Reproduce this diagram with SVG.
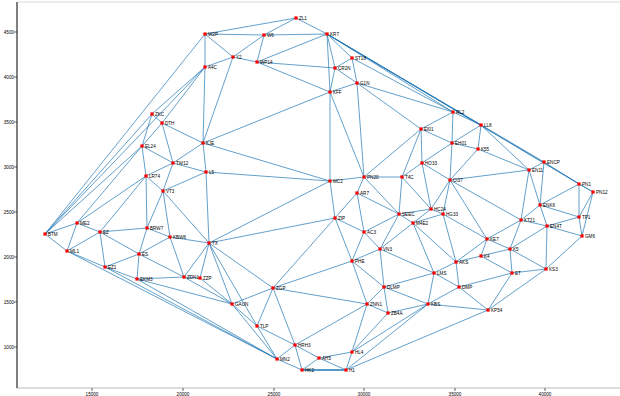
<svg xmlns="http://www.w3.org/2000/svg" width="620" height="396" viewBox="0 0 620 396">
<style>
.e line{stroke:#1f77b4;stroke-width:0.7;fill:none}
.nd rect{fill:#ff0000}
.nd text{font-family:"Liberation Sans",Arial,sans-serif;font-size:4.6px;fill:#000}
.ax{font-family:"Liberation Sans",Arial,sans-serif;font-size:4.6px;fill:#000}
</style>
<rect width="620" height="396" fill="#fff"/>
<line x1="17" y1="2" x2="620" y2="2" stroke="#d9d9d9" stroke-width="1"/>
<line x1="17" y1="388" x2="620" y2="388" stroke="#bbb" stroke-width="1"/>
<line x1="17" y1="2" x2="17" y2="388" stroke="#000" stroke-width="1"/>
<g id="axes" class="ax">
<g stroke="#000" stroke-width="0.6">
<line x1="14" y1="32" x2="17" y2="32"/><line x1="14" y1="77" x2="17" y2="77"/><line x1="14" y1="122" x2="17" y2="122"/><line x1="14" y1="167" x2="17" y2="167"/><line x1="14" y1="212" x2="17" y2="212"/><line x1="14" y1="257" x2="17" y2="257"/><line x1="14" y1="302" x2="17" y2="302"/><line x1="14" y1="347" x2="17" y2="347"/>
<line x1="92" y1="388" x2="92" y2="391"/><line x1="183" y1="388" x2="183" y2="391"/><line x1="274" y1="388" x2="274" y2="391"/><line x1="364" y1="388" x2="364" y2="391"/><line x1="455" y1="388" x2="455" y2="391"/><line x1="545" y1="388" x2="545" y2="391"/>
</g>
<g text-anchor="end">
<text x="14" y="34">4500</text><text x="14" y="79">4000</text><text x="14" y="124">3500</text><text x="14" y="169">3000</text><text x="14" y="214">2500</text><text x="14" y="259">2000</text><text x="14" y="304">1500</text><text x="14" y="349">1000</text>
</g>
<g text-anchor="middle">
<text x="92" y="396">15000</text><text x="183" y="396">20000</text><text x="274" y="396">25000</text><text x="364" y="396">30000</text><text x="455" y="396">35000</text><text x="545" y="396">40000</text>
</g>
</g>
<g id="connectors" class="e">
<line x1="45" y1="234" x2="205" y2="34"/>
<line x1="45" y1="234" x2="205" y2="67"/>
<line x1="45" y1="234" x2="152" y2="114"/>
<line x1="45" y1="234" x2="142" y2="146"/>
<line x1="45" y1="234" x2="77" y2="223"/>
<line x1="45" y1="234" x2="67" y2="251"/>
<line x1="77" y1="223" x2="142" y2="146"/>
<line x1="77" y1="223" x2="146" y2="176"/>
<line x1="77" y1="223" x2="100" y2="232"/>
<line x1="77" y1="223" x2="67" y2="251"/>
<line x1="100" y1="232" x2="67" y2="251"/>
<line x1="100" y1="232" x2="146" y2="176"/>
<line x1="100" y1="232" x2="147" y2="228"/>
<line x1="100" y1="232" x2="139" y2="254"/>
<line x1="100" y1="232" x2="105" y2="267"/>
<line x1="67" y1="251" x2="105" y2="267"/>
<line x1="67" y1="251" x2="277" y2="359"/>
<line x1="105" y1="267" x2="277" y2="359"/>
<line x1="105" y1="267" x2="139" y2="254"/>
<line x1="105" y1="267" x2="137" y2="279"/>
<line x1="137" y1="279" x2="277" y2="359"/>
<line x1="137" y1="279" x2="139" y2="254"/>
<line x1="137" y1="279" x2="184" y2="277"/>
<line x1="137" y1="279" x2="232" y2="304"/>
<line x1="139" y1="254" x2="147" y2="228"/>
<line x1="139" y1="254" x2="170" y2="237"/>
<line x1="139" y1="254" x2="184" y2="277"/>
<line x1="147" y1="228" x2="146" y2="176"/>
<line x1="147" y1="228" x2="163" y2="191"/>
<line x1="147" y1="228" x2="170" y2="237"/>
<line x1="170" y1="237" x2="163" y2="191"/>
<line x1="170" y1="237" x2="209" y2="243"/>
<line x1="170" y1="237" x2="184" y2="277"/>
<line x1="184" y1="277" x2="200" y2="278"/>
<line x1="184" y1="277" x2="209" y2="243"/>
<line x1="184" y1="277" x2="232" y2="304"/>
<line x1="200" y1="278" x2="209" y2="243"/>
<line x1="200" y1="278" x2="232" y2="304"/>
<line x1="209" y1="243" x2="206" y2="172"/>
<line x1="209" y1="243" x2="163" y2="191"/>
<line x1="209" y1="243" x2="330" y2="181"/>
<line x1="209" y1="243" x2="335" y2="218"/>
<line x1="209" y1="243" x2="273" y2="288"/>
<line x1="209" y1="243" x2="232" y2="304"/>
<line x1="209" y1="243" x2="257" y2="326"/>
<line x1="232" y1="304" x2="273" y2="288"/>
<line x1="232" y1="304" x2="257" y2="326"/>
<line x1="232" y1="304" x2="277" y2="359"/>
<line x1="257" y1="326" x2="273" y2="288"/>
<line x1="257" y1="326" x2="295" y2="345"/>
<line x1="257" y1="326" x2="277" y2="359"/>
<line x1="277" y1="359" x2="295" y2="345"/>
<line x1="277" y1="359" x2="302" y2="370"/>
<line x1="295" y1="345" x2="302" y2="370"/>
<line x1="295" y1="345" x2="319" y2="358"/>
<line x1="295" y1="345" x2="273" y2="288"/>
<line x1="295" y1="345" x2="367" y2="304"/>
<line x1="319" y1="358" x2="302" y2="370"/>
<line x1="319" y1="358" x2="352" y2="352"/>
<line x1="319" y1="358" x2="346" y2="370"/>
<line x1="302" y1="370" x2="346" y2="370" style="stroke-width:1.5"/>
<line x1="346" y1="370" x2="352" y2="352"/>
<line x1="346" y1="370" x2="428" y2="304"/>
<line x1="346" y1="370" x2="488" y2="310"/>
<line x1="352" y1="352" x2="367" y2="304"/>
<line x1="352" y1="352" x2="388" y2="313"/>
<line x1="352" y1="352" x2="428" y2="304"/>
<line x1="367" y1="304" x2="388" y2="313"/>
<line x1="367" y1="304" x2="384" y2="287"/>
<line x1="367" y1="304" x2="352" y2="261"/>
<line x1="367" y1="304" x2="273" y2="288"/>
<line x1="388" y1="313" x2="384" y2="287"/>
<line x1="388" y1="313" x2="428" y2="304"/>
<line x1="384" y1="287" x2="428" y2="304"/>
<line x1="384" y1="287" x2="434" y2="273"/>
<line x1="384" y1="287" x2="380" y2="249"/>
<line x1="384" y1="287" x2="352" y2="261"/>
<line x1="352" y1="261" x2="380" y2="249"/>
<line x1="352" y1="261" x2="364" y2="232"/>
<line x1="352" y1="261" x2="335" y2="218"/>
<line x1="352" y1="261" x2="273" y2="288"/>
<line x1="273" y1="288" x2="335" y2="218"/>
<line x1="335" y1="218" x2="364" y2="232"/>
<line x1="335" y1="218" x2="357" y2="193"/>
<line x1="335" y1="218" x2="330" y2="181"/>
<line x1="364" y1="232" x2="357" y2="193"/>
<line x1="364" y1="232" x2="380" y2="249"/>
<line x1="364" y1="232" x2="399" y2="214"/>
<line x1="380" y1="249" x2="399" y2="214"/>
<line x1="380" y1="249" x2="413" y2="223"/>
<line x1="380" y1="249" x2="434" y2="273"/>
<line x1="399" y1="214" x2="413" y2="223"/>
<line x1="399" y1="214" x2="431" y2="209"/>
<line x1="399" y1="214" x2="402" y2="177"/>
<line x1="399" y1="214" x2="364" y2="177"/>
<line x1="399" y1="214" x2="357" y2="193"/>
<line x1="357" y1="193" x2="364" y2="177"/>
<line x1="330" y1="181" x2="364" y2="177"/>
<line x1="330" y1="181" x2="206" y2="172"/>
<line x1="330" y1="181" x2="203" y2="143"/>
<line x1="330" y1="181" x2="330" y2="92"/>
<line x1="364" y1="177" x2="402" y2="177"/>
<line x1="364" y1="177" x2="330" y2="92"/>
<line x1="364" y1="177" x2="357" y2="83"/>
<line x1="364" y1="177" x2="421" y2="129"/>
<line x1="402" y1="177" x2="421" y2="129"/>
<line x1="402" y1="177" x2="422" y2="163"/>
<line x1="402" y1="177" x2="431" y2="209"/>
<line x1="422" y1="163" x2="431" y2="209"/>
<line x1="422" y1="163" x2="450" y2="180"/>
<line x1="422" y1="163" x2="421" y2="129"/>
<line x1="422" y1="163" x2="452" y2="143"/>
<line x1="421" y1="129" x2="452" y2="143"/>
<line x1="421" y1="129" x2="453" y2="112"/>
<line x1="421" y1="129" x2="357" y2="83"/>
<line x1="453" y1="112" x2="452" y2="143"/>
<line x1="453" y1="112" x2="481" y2="125"/>
<line x1="453" y1="112" x2="357" y2="83"/>
<line x1="453" y1="112" x2="327" y2="34"/>
<line x1="453" y1="112" x2="352" y2="58"/>
<line x1="481" y1="125" x2="452" y2="143"/>
<line x1="481" y1="125" x2="478" y2="149"/>
<line x1="481" y1="125" x2="529" y2="170"/>
<line x1="481" y1="125" x2="327" y2="34"/>
<line x1="452" y1="143" x2="478" y2="149"/>
<line x1="452" y1="143" x2="450" y2="180"/>
<line x1="478" y1="149" x2="450" y2="180"/>
<line x1="478" y1="149" x2="529" y2="170"/>
<line x1="450" y1="180" x2="529" y2="170"/>
<line x1="450" y1="180" x2="431" y2="209"/>
<line x1="450" y1="180" x2="443" y2="214"/>
<line x1="450" y1="180" x2="487" y2="239"/>
<line x1="450" y1="180" x2="521" y2="220"/>
<line x1="431" y1="209" x2="443" y2="214"/>
<line x1="431" y1="209" x2="413" y2="223"/>
<line x1="443" y1="214" x2="413" y2="223"/>
<line x1="443" y1="214" x2="456" y2="262"/>
<line x1="443" y1="214" x2="487" y2="239"/>
<line x1="413" y1="223" x2="456" y2="262"/>
<line x1="413" y1="223" x2="434" y2="273"/>
<line x1="434" y1="273" x2="456" y2="262"/>
<line x1="434" y1="273" x2="459" y2="287"/>
<line x1="434" y1="273" x2="428" y2="304"/>
<line x1="456" y1="262" x2="459" y2="287"/>
<line x1="456" y1="262" x2="481" y2="256"/>
<line x1="456" y1="262" x2="487" y2="239"/>
<line x1="487" y1="239" x2="481" y2="256"/>
<line x1="487" y1="239" x2="510" y2="249"/>
<line x1="487" y1="239" x2="521" y2="220"/>
<line x1="481" y1="256" x2="510" y2="249"/>
<line x1="481" y1="256" x2="512" y2="273"/>
<line x1="510" y1="249" x2="512" y2="273"/>
<line x1="510" y1="249" x2="546" y2="269"/>
<line x1="510" y1="249" x2="521" y2="220"/>
<line x1="510" y1="249" x2="547" y2="226"/>
<line x1="521" y1="220" x2="547" y2="226"/>
<line x1="521" y1="220" x2="540" y2="205"/>
<line x1="521" y1="220" x2="529" y2="170"/>
<line x1="529" y1="170" x2="540" y2="205"/>
<line x1="529" y1="170" x2="544" y2="162"/>
<line x1="544" y1="162" x2="579" y2="184"/>
<line x1="544" y1="162" x2="540" y2="205"/>
<line x1="544" y1="162" x2="327" y2="34"/>
<line x1="579" y1="184" x2="540" y2="205"/>
<line x1="579" y1="184" x2="579" y2="217"/>
<line x1="579" y1="184" x2="593" y2="192"/>
<line x1="579" y1="184" x2="327" y2="34"/>
<line x1="593" y1="192" x2="327" y2="34"/>
<line x1="593" y1="192" x2="579" y2="217"/>
<line x1="593" y1="192" x2="582" y2="236"/>
<line x1="540" y1="205" x2="579" y2="217"/>
<line x1="540" y1="205" x2="547" y2="226"/>
<line x1="579" y1="217" x2="547" y2="226"/>
<line x1="579" y1="217" x2="582" y2="236"/>
<line x1="582" y1="236" x2="547" y2="226"/>
<line x1="582" y1="236" x2="546" y2="269"/>
<line x1="547" y1="226" x2="546" y2="269"/>
<line x1="546" y1="269" x2="512" y2="273"/>
<line x1="546" y1="269" x2="488" y2="310"/>
<line x1="512" y1="273" x2="488" y2="310"/>
<line x1="512" y1="273" x2="459" y2="287"/>
<line x1="459" y1="287" x2="488" y2="310"/>
<line x1="459" y1="287" x2="428" y2="304"/>
<line x1="428" y1="304" x2="488" y2="310"/>
<line x1="205" y1="34" x2="296" y2="18"/>
<line x1="205" y1="34" x2="264" y2="35"/>
<line x1="205" y1="34" x2="233" y2="57"/>
<line x1="205" y1="34" x2="205" y2="67"/>
<line x1="296" y1="18" x2="264" y2="35"/>
<line x1="296" y1="18" x2="327" y2="34"/>
<line x1="264" y1="35" x2="327" y2="34"/>
<line x1="264" y1="35" x2="233" y2="57"/>
<line x1="264" y1="35" x2="257" y2="62"/>
<line x1="233" y1="57" x2="257" y2="62"/>
<line x1="233" y1="57" x2="205" y2="67"/>
<line x1="233" y1="57" x2="203" y2="143"/>
<line x1="257" y1="62" x2="327" y2="34"/>
<line x1="257" y1="62" x2="335" y2="68"/>
<line x1="257" y1="62" x2="330" y2="92"/>
<line x1="327" y1="34" x2="335" y2="68"/>
<line x1="327" y1="34" x2="352" y2="58"/>
<line x1="327" y1="34" x2="330" y2="92"/>
<line x1="352" y1="58" x2="335" y2="68"/>
<line x1="352" y1="58" x2="357" y2="83"/>
<line x1="335" y1="68" x2="357" y2="83"/>
<line x1="335" y1="68" x2="330" y2="92"/>
<line x1="357" y1="83" x2="330" y2="92"/>
<line x1="330" y1="92" x2="203" y2="143"/>
<line x1="203" y1="143" x2="205" y2="67"/>
<line x1="203" y1="143" x2="162" y2="123"/>
<line x1="203" y1="143" x2="173" y2="163"/>
<line x1="203" y1="143" x2="206" y2="172"/>
<line x1="205" y1="67" x2="152" y2="114"/>
<line x1="205" y1="67" x2="162" y2="123"/>
<line x1="152" y1="114" x2="162" y2="123"/>
<line x1="152" y1="114" x2="142" y2="146"/>
<line x1="162" y1="123" x2="173" y2="163"/>
<line x1="162" y1="123" x2="142" y2="146"/>
<line x1="142" y1="146" x2="173" y2="163"/>
<line x1="142" y1="146" x2="146" y2="176"/>
<line x1="173" y1="163" x2="146" y2="176"/>
<line x1="173" y1="163" x2="163" y2="191"/>
<line x1="173" y1="163" x2="206" y2="172"/>
<line x1="146" y1="176" x2="163" y2="191"/>
<line x1="163" y1="191" x2="206" y2="172"/>
</g>
<g class="nd">
<g id="n-BTM"><rect x="43.4" y="232.4" width="3.2" height="3.2"/><text x="48" y="235.5">BTM</text></g>
<g id="n-ME2"><rect x="75.4" y="221.4" width="3.2" height="3.2"/><text x="80" y="224.5">ME2</text></g>
<g id="n-ML1"><rect x="65.4" y="249.4" width="3.2" height="3.2"/><text x="70" y="252.5">ML1</text></g>
<g id="n-EZ"><rect x="98.4" y="230.4" width="3.2" height="3.2"/><text x="103" y="233.5">EZ</text></g>
<g id="n-EZ1"><rect x="103.4" y="265.4" width="3.2" height="3.2"/><text x="108" y="268.5">EZ1</text></g>
<g id="n-ES"><rect x="137.4" y="252.4" width="3.2" height="3.2"/><text x="142" y="255.5">ES</text></g>
<g id="n-BRW7"><rect x="145.4" y="226.4" width="3.2" height="3.2"/><text x="150" y="229.5">BRW7</text></g>
<g id="n-EKM3"><rect x="135.4" y="277.4" width="3.2" height="3.2"/><text x="140" y="280.5">EKM3</text></g>
<g id="n-KBW6"><rect x="168.4" y="235.4" width="3.2" height="3.2"/><text x="173" y="238.5">KBW6</text></g>
<g id="n-ZDN1"><rect x="182.4" y="275.4" width="3.2" height="3.2"/><text x="187" y="278.5">ZDN1</text></g>
<g id="n-ZZP"><rect x="198.4" y="276.4" width="3.2" height="3.2"/><text x="203" y="279.5">ZZP</text></g>
<g id="n-TX"><rect x="207.4" y="241.4" width="3.2" height="3.2"/><text x="212" y="244.5">TX</text></g>
<g id="n-VT3"><rect x="161.4" y="189.4" width="3.2" height="3.2"/><text x="166" y="192.5">VT3</text></g>
<g id="n-LR74"><rect x="144.4" y="174.4" width="3.2" height="3.2"/><text x="149" y="177.5">LR74</text></g>
<g id="n-TW12"><rect x="171.4" y="161.4" width="3.2" height="3.2"/><text x="176" y="164.5">TW12</text></g>
<g id="n-EL24"><rect x="140.4" y="144.4" width="3.2" height="3.2"/><text x="145" y="147.5">EL24</text></g>
<g id="n-ZKC"><rect x="150.4" y="112.4" width="3.2" height="3.2"/><text x="155" y="115.5">ZKC</text></g>
<g id="n-DTH"><rect x="160.4" y="121.4" width="3.2" height="3.2"/><text x="165" y="124.5">DTH</text></g>
<g id="n-KJE"><rect x="201.4" y="141.4" width="3.2" height="3.2"/><text x="206" y="144.5">KJE</text></g>
<g id="n-L5"><rect x="204.4" y="170.4" width="3.2" height="3.2"/><text x="209" y="173.5">L5</text></g>
<g id="n-W2P"><rect x="203.4" y="32.4" width="3.2" height="3.2"/><text x="208" y="35.5">W2P</text></g>
<g id="n-A4C"><rect x="203.4" y="65.4" width="3.2" height="3.2"/><text x="208" y="68.5">A4C</text></g>
<g id="n-Y2"><rect x="231.4" y="55.4" width="3.2" height="3.2"/><text x="236" y="58.5">Y2</text></g>
<g id="n-W6"><rect x="262.4" y="33.4" width="3.2" height="3.2"/><text x="267" y="36.5">W6</text></g>
<g id="n-ZL1"><rect x="294.4" y="16.4" width="3.2" height="3.2"/><text x="299" y="19.5">ZL1</text></g>
<g id="n-KR7"><rect x="325.4" y="32.4" width="3.2" height="3.2"/><text x="330" y="35.5">KR7</text></g>
<g id="n-WP14"><rect x="255.4" y="60.4" width="3.2" height="3.2"/><text x="260" y="63.5">WP14</text></g>
<g id="n-ST18"><rect x="350.4" y="56.4" width="3.2" height="3.2"/><text x="355" y="59.5">ST18</text></g>
<g id="n-CR2N"><rect x="333.4" y="66.4" width="3.2" height="3.2"/><text x="338" y="69.5">CR2N</text></g>
<g id="n-G1N"><rect x="355.4" y="81.4" width="3.2" height="3.2"/><text x="360" y="84.5">G1N</text></g>
<g id="n-KFF"><rect x="328.4" y="90.4" width="3.2" height="3.2"/><text x="333" y="93.5">KFF</text></g>
<g id="n-MC2"><rect x="328.4" y="179.4" width="3.2" height="3.2"/><text x="333" y="182.5">MC2</text></g>
<g id="n-PN20"><rect x="362.4" y="175.4" width="3.2" height="3.2"/><text x="367" y="178.5">PN20</text></g>
<g id="n-T4C"><rect x="400.4" y="175.4" width="3.2" height="3.2"/><text x="405" y="178.5">T4C</text></g>
<g id="n-AR7"><rect x="355.4" y="191.4" width="3.2" height="3.2"/><text x="360" y="194.5">AR7</text></g>
<g id="n-RL2"><rect x="451.4" y="110.4" width="3.2" height="3.2"/><text x="456" y="113.5">RL2</text></g>
<g id="n-EI01"><rect x="419.4" y="127.4" width="3.2" height="3.2"/><text x="424" y="130.5">EI01</text></g>
<g id="n-LL8"><rect x="479.4" y="123.4" width="3.2" height="3.2"/><text x="484" y="126.5">LL8</text></g>
<g id="n-EH01"><rect x="450.4" y="141.4" width="3.2" height="3.2"/><text x="455" y="144.5">EH01</text></g>
<g id="n-K55"><rect x="476.4" y="147.4" width="3.2" height="3.2"/><text x="481" y="150.5">K55</text></g>
<g id="n-HO33"><rect x="420.4" y="161.4" width="3.2" height="3.2"/><text x="425" y="164.5">HO33</text></g>
<g id="n-CI37"><rect x="448.4" y="178.4" width="3.2" height="3.2"/><text x="453" y="181.5">CI37</text></g>
<g id="n-ENCP"><rect x="542.4" y="160.4" width="3.2" height="3.2"/><text x="547" y="163.5">ENCP</text></g>
<g id="n-EN11"><rect x="527.4" y="168.4" width="3.2" height="3.2"/><text x="532" y="171.5">EN11</text></g>
<g id="n-PN1"><rect x="577.4" y="182.4" width="3.2" height="3.2"/><text x="582" y="185.5">PN1</text></g>
<g id="n-PN12"><rect x="591.4" y="190.4" width="3.2" height="3.2"/><text x="596" y="193.5">PN12</text></g>
<g id="n-ENK6"><rect x="538.4" y="203.4" width="3.2" height="3.2"/><text x="543" y="206.5">ENK6</text></g>
<g id="n-TP1"><rect x="577.4" y="215.4" width="3.2" height="3.2"/><text x="582" y="218.5">TP1</text></g>
<g id="n-GM6"><rect x="580.4" y="234.4" width="3.2" height="3.2"/><text x="585" y="237.5">GM6</text></g>
<g id="n-EN4T"><rect x="545.4" y="224.4" width="3.2" height="3.2"/><text x="550" y="227.5">EN4T</text></g>
<g id="n-KT21"><rect x="519.4" y="218.4" width="3.2" height="3.2"/><text x="524" y="221.5">KT21</text></g>
<g id="n-HC24"><rect x="429.4" y="207.4" width="3.2" height="3.2"/><text x="434" y="210.5">HC24</text></g>
<g id="n-HG33"><rect x="441.4" y="212.4" width="3.2" height="3.2"/><text x="446" y="215.5">HG33</text></g>
<g id="n-M4E2"><rect x="411.4" y="221.4" width="3.2" height="3.2"/><text x="416" y="224.5">M4E2</text></g>
<g id="n-SEEC"><rect x="397.4" y="212.4" width="3.2" height="3.2"/><text x="402" y="215.5">SEEC</text></g>
<g id="n-ZIP"><rect x="333.4" y="216.4" width="3.2" height="3.2"/><text x="338" y="219.5">ZIP</text></g>
<g id="n-AC3"><rect x="362.4" y="230.4" width="3.2" height="3.2"/><text x="367" y="233.5">AC3</text></g>
<g id="n-VN3"><rect x="378.4" y="247.4" width="3.2" height="3.2"/><text x="383" y="250.5">VN3</text></g>
<g id="n-PHE"><rect x="350.4" y="259.4" width="3.2" height="3.2"/><text x="355" y="262.5">PHE</text></g>
<g id="n-KE7"><rect x="485.4" y="237.4" width="3.2" height="3.2"/><text x="490" y="240.5">KE7</text></g>
<g id="n-K5"><rect x="508.4" y="247.4" width="3.2" height="3.2"/><text x="513" y="250.5">K5</text></g>
<g id="n-K4"><rect x="479.4" y="254.4" width="3.2" height="3.2"/><text x="484" y="257.5">K4</text></g>
<g id="n-AKS"><rect x="454.4" y="260.4" width="3.2" height="3.2"/><text x="459" y="263.5">AKS</text></g>
<g id="n-LMS"><rect x="432.4" y="271.4" width="3.2" height="3.2"/><text x="437" y="274.5">LMS</text></g>
<g id="n-ET"><rect x="510.4" y="271.4" width="3.2" height="3.2"/><text x="515" y="274.5">ET</text></g>
<g id="n-KS3"><rect x="544.4" y="267.4" width="3.2" height="3.2"/><text x="549" y="270.5">KS3</text></g>
<g id="n-DMP"><rect x="457.4" y="285.4" width="3.2" height="3.2"/><text x="462" y="288.5">DMP</text></g>
<g id="n-DLMP"><rect x="382.4" y="285.4" width="3.2" height="3.2"/><text x="387" y="288.5">DLMP</text></g>
<g id="n-ZNN1"><rect x="365.4" y="302.4" width="3.2" height="3.2"/><text x="370" y="305.5">ZNN1</text></g>
<g id="n-KBS"><rect x="426.4" y="302.4" width="3.2" height="3.2"/><text x="431" y="305.5">KBS</text></g>
<g id="n-ZB4A"><rect x="386.4" y="311.4" width="3.2" height="3.2"/><text x="391" y="314.5">ZB4A</text></g>
<g id="n-KP54"><rect x="486.4" y="308.4" width="3.2" height="3.2"/><text x="491" y="311.5">KP54</text></g>
<g id="n-ZGP"><rect x="271.4" y="286.4" width="3.2" height="3.2"/><text x="276" y="289.5">ZGP</text></g>
<g id="n-GAUN"><rect x="230.4" y="302.4" width="3.2" height="3.2"/><text x="235" y="305.5">GAUN</text></g>
<g id="n-TLP"><rect x="255.4" y="324.4" width="3.2" height="3.2"/><text x="260" y="327.5">TLP</text></g>
<g id="n-HRH3"><rect x="293.4" y="343.4" width="3.2" height="3.2"/><text x="298" y="346.5">HRH3</text></g>
<g id="n-HL4"><rect x="350.4" y="350.4" width="3.2" height="3.2"/><text x="355" y="353.5">HL4</text></g>
<g id="n-AH5"><rect x="317.4" y="356.4" width="3.2" height="3.2"/><text x="322" y="359.5">AH5</text></g>
<g id="n-MN2"><rect x="275.4" y="357.4" width="3.2" height="3.2"/><text x="280" y="360.5">MN2</text></g>
<g id="n-HK2"><rect x="300.4" y="368.4" width="3.2" height="3.2"/><text x="305" y="371.5">HK2</text></g>
<g id="n-H1"><rect x="344.4" y="368.4" width="3.2" height="3.2"/><text x="349" y="371.5">H1</text></g>
</g>
</svg>
